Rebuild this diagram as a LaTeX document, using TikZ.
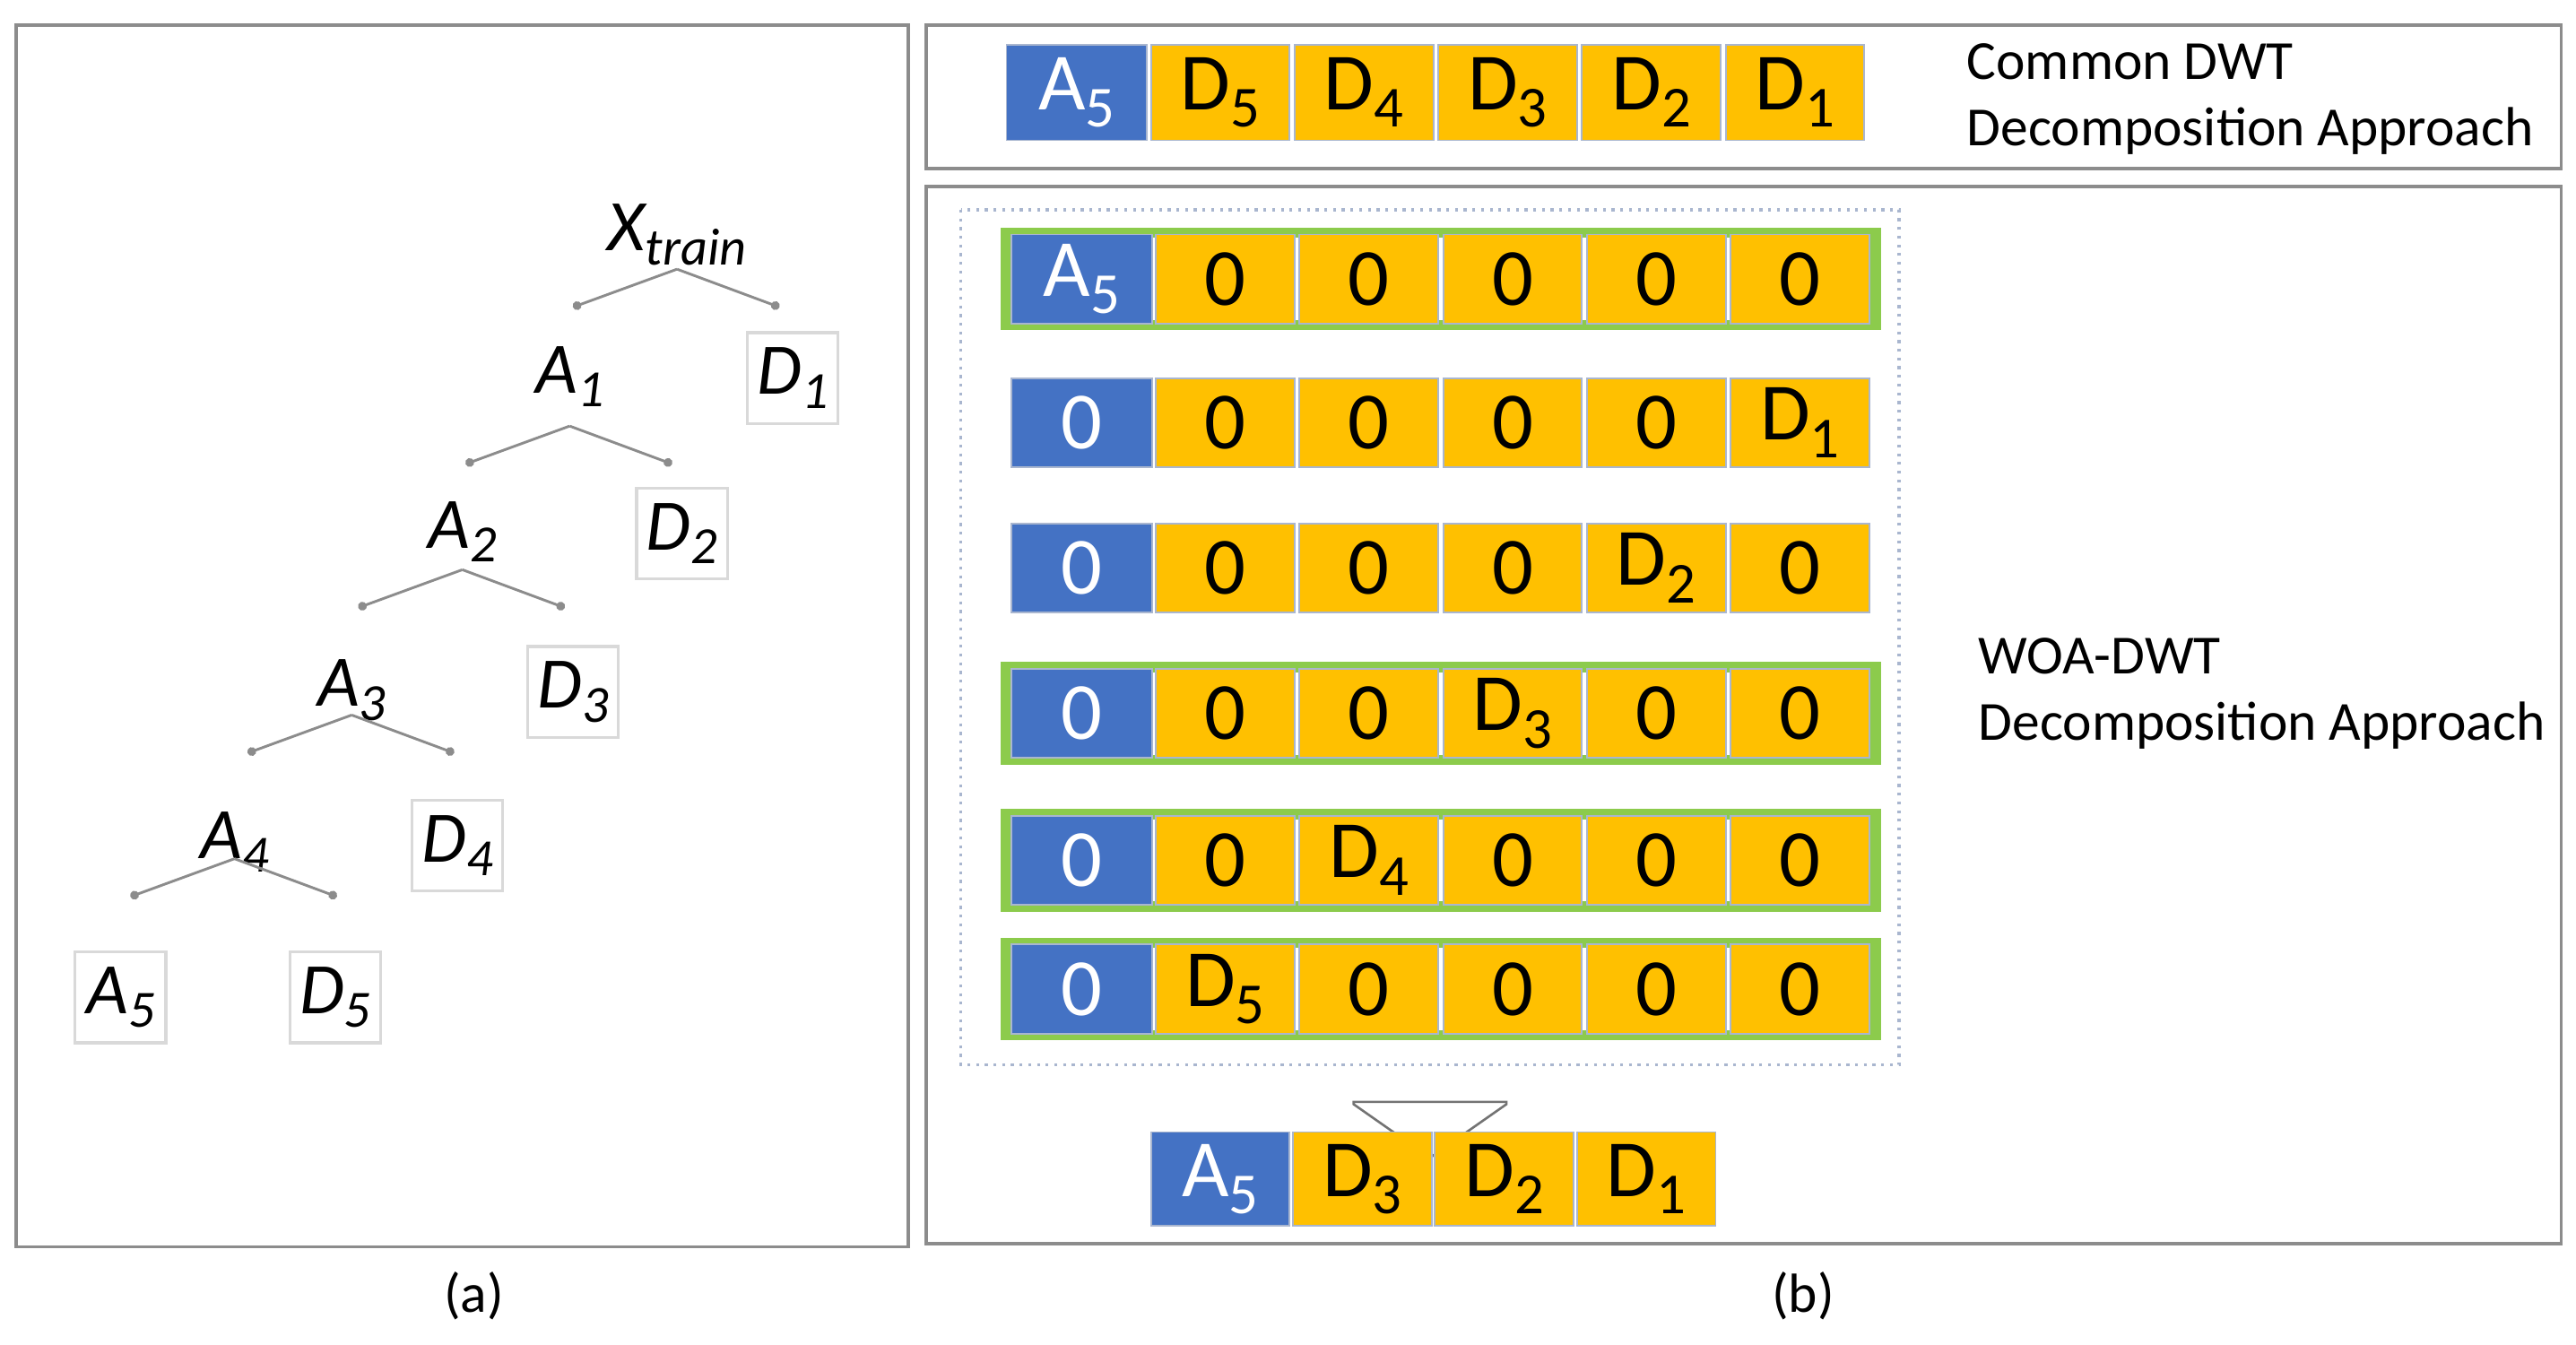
\documentclass[tikz,border=0pt]{standalone}
\usepackage{fontspec}
\setmainfont{Carlito}
\usetikzlibrary{shapes.arrows,arrows.meta}
\definecolor{cblue}{HTML}{4472C4}
\definecolor{cgold}{HTML}{FFC000}
\definecolor{cgreen}{HTML}{8CCB4C}
\definecolor{cedge}{HTML}{A9B6CF}
\newcommand{\sbs}[1]{\raisebox{-0.45ex}{\fontsize{20}{20}\selectfont #1}}
\newcommand{\isbs}[1]{\raisebox{-0.4ex}{\fontsize{18}{18}\selectfont #1}}
\begin{document}
\begin{tikzpicture}[x=0.02cm,y=-0.02cm,
  panel/.style={draw=black!45,line width=1.2pt},
  bcell/.style={fill=cblue,draw=cedge,line width=0.6pt,text=white,font=\fontsize{28}{28}\selectfont,inner sep=0pt},
  gcell/.style={fill=cgold,draw=cedge,line width=0.6pt,text=black,font=\fontsize{28}{28}\selectfont,inner sep=0pt},
  tl/.style={font=\fontsize{25}{25}\selectfont\itshape,inner sep=1pt},
  tb/.style={tl,draw=black!15,line width=1pt,minimum width=1.1cm,minimum height=1.1cm},
  br/.style={draw=black!45,line width=0.9pt,-{Circle[length=3pt]}},
  gframe/.style={draw=cgreen,line width=3.5pt},
  lab/.style={font=\fontsize{19}{23}\selectfont,align=left,anchor=west}]
\useasboundingbox (0,0) rectangle (1560,814);
% panels
\draw[panel] (10,15) rectangle (550,755);
\draw[panel] (561,15) rectangle (1551,102);
\draw[panel] (561,113) rectangle (1551,753);
\node[font=\fontsize{19}{19}\selectfont] (la) at (287,785) {(a)};
\node[font=\fontsize{19}{19}\selectfont] (lb) at (1092,785) {(b)};
% tree
\node[tl] (x) at (410,142) {X\isbs{train}};
\node[tl] (a1) at (345,228) {A\isbs{1}};
\node[tb] (d1) at (480,229) {D\isbs{1}};
\node[tl] (a2) at (280,322) {A\isbs{2}};
\node[tb] (d2) at (413,323) {D\isbs{2}};
\node[tl] (a3) at (213,418) {A\isbs{3}};
\node[tb] (d3) at (347,419) {D\isbs{3}};
\node[tl] (a4) at (142,510) {A\isbs{4}};
\node[tb] (d4) at (277,512) {D\isbs{4}};
\node[tb] (a5) at (73,604) {A\isbs{5}};
\node[tb] (d5) at (203,604) {D\isbs{5}};
\foreach \p/\ax/\ay/\l/\r in {x/410/163/a1/d1, a1/345/258/a2/d2, a2/280/345/a3/d3, a3/213/433/a4/d4, a4/142/520/a5/d5}{
  \coordinate (ap\p) at (\ax,\ay);
  \coordinate (L\p) at (\ax-63,\ay+23);
  \coordinate (R\p) at (\ax+62,\ay+23);
  \draw[br] (ap\p) -- (L\p);
  \draw[br] (ap\p) -- (R\p);
}
% top row
\node[bcell,minimum width=1.7cm,minimum height=1.16cm] (t0) at (652,56) {A\sbs{5}};
\foreach \i/\t in {1/5,2/4,3/3,4/2,5/1}{
  \node[gcell,minimum width=1.68cm,minimum height=1.16cm] (t\i) at ({652+87*\i},56) {D\sbs{\t}};
}
\node[lab] (ct) at (1185,60) {Common DWT\\Decomposition Approach};
% WOA block
\draw[draw=cedge,dotted,line width=1pt] (582,127) rectangle (1150,645);
\node[lab] (wt) at (1192,420) {WOA-DWT\\Decomposition Approach};
\foreach \r/\y/\g in {1/169/1,2/256/0,3/344/0,4/432/1,5/521/1,6/599/1}{
  \ifnum\g=1 \draw[gframe] (609,\y-28) rectangle (1136,\y+28); \fi
  \ifnum\r=1
    \node[bcell,minimum width=1.7cm,minimum height=1.08cm] (r\r c0) at (655,\y) {A\sbs{5}};
  \else
    \node[bcell,minimum width=1.7cm,minimum height=1.08cm] (r\r c0) at (655,\y) {0};
  \fi
  \foreach \c in {1,...,5}{
    \pgfmathtruncatemacro{\d}{7-\r}
    \ifnum\c=\d
      \pgfmathtruncatemacro{\k}{6-\c}
      \node[gcell,minimum width=1.68cm,minimum height=1.08cm] (r\r c\c) at ({655+87*\c},\y) {D\sbs{\k}};
    \else
      \node[gcell,minimum width=1.68cm,minimum height=1.08cm] (r\r c\c) at ({655+87*\c},\y) {0};
    \fi
  }
}
% arrow
\node[single arrow,shape border rotate=270,draw=black!55,fill=white,line width=0.8pt,
  minimum height=0.5cm,minimum width=1.85cm,single arrow head extend=0pt,inner sep=0pt,
  single arrow tip angle=110] (ar) at (866,668) {};
% result
\node[bcell,minimum width=1.68cm,minimum height=1.14cm] (b0) at (739,714) {A\sbs{5}};
\foreach \i/\t in {1/3,2/2,3/1}{
  \node[gcell,minimum width=1.68cm,minimum height=1.14cm] (b\i) at ({739+86*\i},714) {D\sbs{\t}};
}
\end{tikzpicture}
\end{document}
